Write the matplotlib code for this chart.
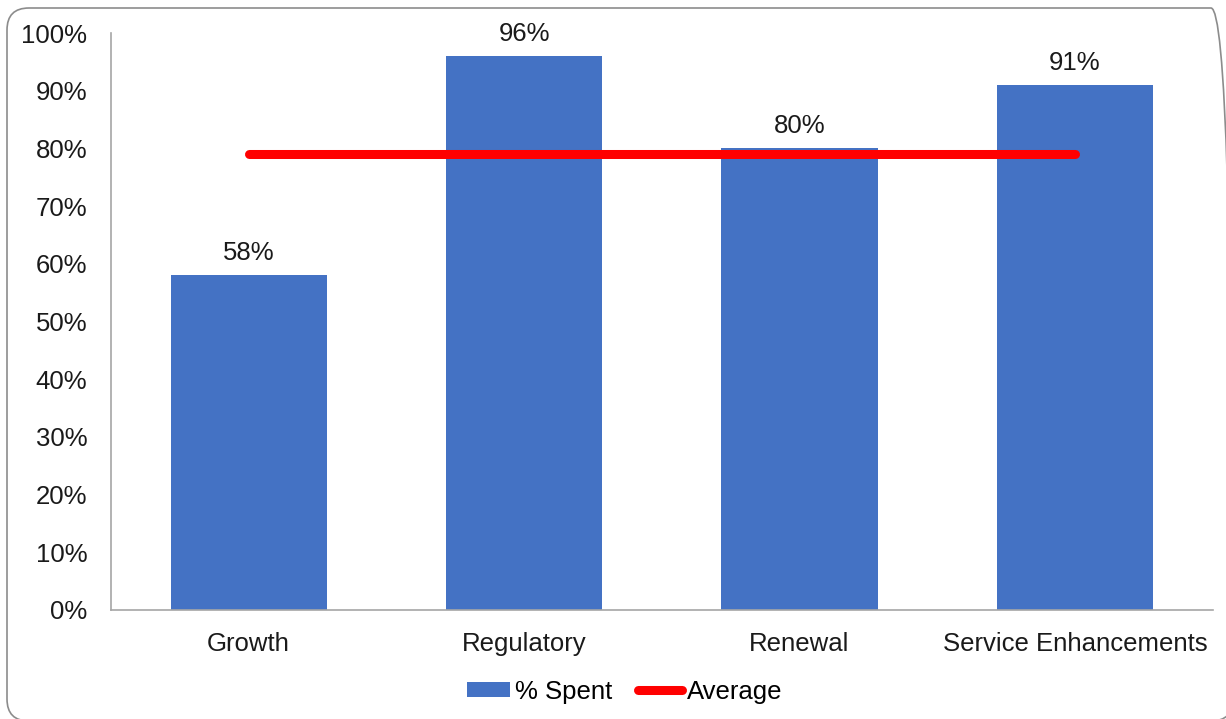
import matplotlib
matplotlib.use("Agg")
import matplotlib.pyplot as plt
from matplotlib.patches import FancyBboxPatch
from matplotlib.lines import Line2D
from matplotlib.patches import Patch
from matplotlib.ticker import PercentFormatter
from matplotlib.transforms import IdentityTransform

categories = ["Growth", "Regulatory", "Renewal", "Service Enhancements"]
spent = [0.58, 0.96, 0.80, 0.91]
average = [0.79, 0.79, 0.79, 0.79]
labels = ["58%", "96%", "80%", "91%"]

plt.rcParams['font.family'] = ['Liberation Sans', 'DejaVu Sans']
FS = 18.5

fig = plt.figure(figsize=(12.26, 7.19), dpi=100)
ax = fig.add_axes([0.0905, 0.1516, 0.8985, 0.8024])

x = list(range(len(categories)))
bar_color = "#4472C4"
ax.bar(x, spent, width=0.567, color=bar_color, zorder=2)
ax.plot(x, average, color="#FF0000", linewidth=6.5, solid_capstyle="round", zorder=3)

for xi, v, t in zip(x, spent, labels):
    ax.annotate(t, (xi, v), xytext=(0, 16), textcoords="offset points",
                ha="center", va="center", fontsize=FS, color="#1a1a1a")

ax.set_xlim(-0.5, 3.5)
ax.set_ylim(0, 1.0)
ax.set_yticks([i / 10 for i in range(11)])
ax.yaxis.set_major_formatter(PercentFormatter(1.0, decimals=0))
ax.set_xticks(x)
ax.set_xticklabels(categories)
ax.tick_params(axis="both", length=0, labelsize=FS, labelcolor="#1a1a1a")
ax.tick_params(axis="y", pad=17)
ax.tick_params(axis="x", pad=16)

for s in ["top", "right"]:
    ax.spines[s].set_visible(False)
for s in ["left", "bottom"]:
    ax.spines[s].set_color("#A6A6A6")
    ax.spines[s].set_linewidth(1.2)

handles = [Patch(facecolor=bar_color, edgecolor="none"),
           Line2D([0], [0], color="#FF0000", linewidth=6.5, solid_capstyle="round")]
fig.legend(handles, ["% Spent", "Average"], loc="center", bbox_to_anchor=(0.5095, 0.038),
           ncol=2, frameon=False, fontsize=FS, handlelength=1.7, handletextpad=0.2,
           columnspacing=1.0, handleheight=0.55)

# rounded border in pixel coordinates (origin bottom-left)
border = FancyBboxPatch((7, -2), 1226, 713,
                        boxstyle="round,pad=0,rounding_size=22",
                        transform=IdentityTransform(), facecolor="none",
                        edgecolor="#8C8C8C", linewidth=1.2)
fig.patches.append(border)

fig.savefig("out.png", dpi=100)
